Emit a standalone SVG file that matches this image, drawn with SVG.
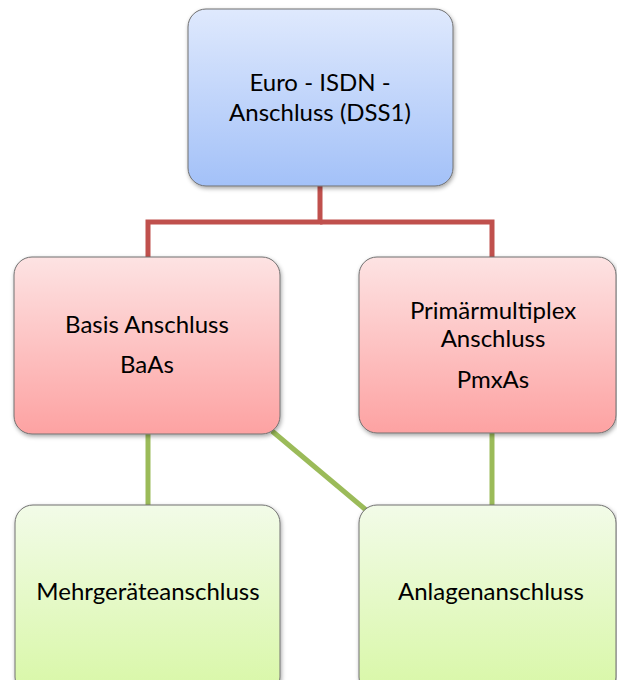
<svg xmlns="http://www.w3.org/2000/svg" width="617" height="680" viewBox="0 0 617 680">
  <style>
    .box { stroke: #707070; stroke-width: 1; filter: url(#shadow); }
    .label { font-family: "Lato", "Liberation Sans", sans-serif; font-size: 24px; fill: #000; text-anchor: middle; }
    .red { stroke: #c0504d; stroke-width: 5; fill: none; }
    .green { stroke: #9bbb59; stroke-width: 5; fill: none; }
  </style>
  <defs>
    <linearGradient id="gBlue" x1="0" y1="0" x2="0" y2="1">
      <stop offset="0" stop-color="#dfe9fd"/>
      <stop offset="1" stop-color="#a3c1f8"/>
    </linearGradient>
    <linearGradient id="gRed" x1="0" y1="0" x2="0" y2="1">
      <stop offset="0" stop-color="#fde3e3"/>
      <stop offset="1" stop-color="#fda2a2"/>
    </linearGradient>
    <linearGradient id="gGreen" x1="0" y1="0" x2="0" y2="1">
      <stop offset="0" stop-color="#f2fbe8"/>
      <stop offset="1" stop-color="#d8f7a6"/>
    </linearGradient>
    <filter id="shadow" x="-10%" y="-10%" width="125%" height="125%">
      <feDropShadow dx="1" dy="2" stdDeviation="2" flood-color="#000" flood-opacity="0.35"/>
    </filter>
  </defs>

  <!-- connectors -->
  <g id="connectors">
    <path class="red" d="M320 186 V222 H148 V258"/>
    <path class="red" d="M320 222 H492 V258"/>
    <line class="green" x1="148" y1="433" x2="148" y2="506"/>
    <line class="green" x1="492" y1="433" x2="492" y2="506"/>
    <line class="green" x1="272" y1="431" x2="366" y2="510"/>
  </g>

  <g id="euro-isdn">
    <rect class="box" x="188" y="9" width="265" height="177" rx="18" fill="url(#gBlue)"/>
    <text class="label" x="320" y="91">Euro - ISDN -</text>
    <text class="label" x="320" y="121">Anschluss (DSS1)</text>
  </g>

  <g id="basis">
    <rect class="box" x="14" y="257" width="266" height="177" rx="18" fill="url(#gRed)"/>
    <text class="label" x="147" y="333">Basis Anschluss</text>
    <text class="label" x="147" y="373">BaAs</text>
  </g>

  <g id="primaer">
    <rect class="box" x="359" y="257" width="257" height="176" rx="18" fill="url(#gRed)"/>
    <text class="label" x="493" y="319">Primärmultiplex</text>
    <text class="label" x="493" y="347">Anschluss</text>
    <text class="label" x="493" y="388">PmxAs</text>
  </g>

  <g id="mehrgeraete">
    <rect class="box" x="15" y="505" width="265" height="190" rx="18" fill="url(#gGreen)"/>
    <text class="label" x="148" y="600">Mehrgeräteanschluss</text>
  </g>

  <g id="anlagen">
    <rect class="box" x="359" y="505" width="257" height="190" rx="18" fill="url(#gGreen)"/>
    <text class="label" x="491" y="600">Anlagenanschluss</text>
  </g>
</svg>
